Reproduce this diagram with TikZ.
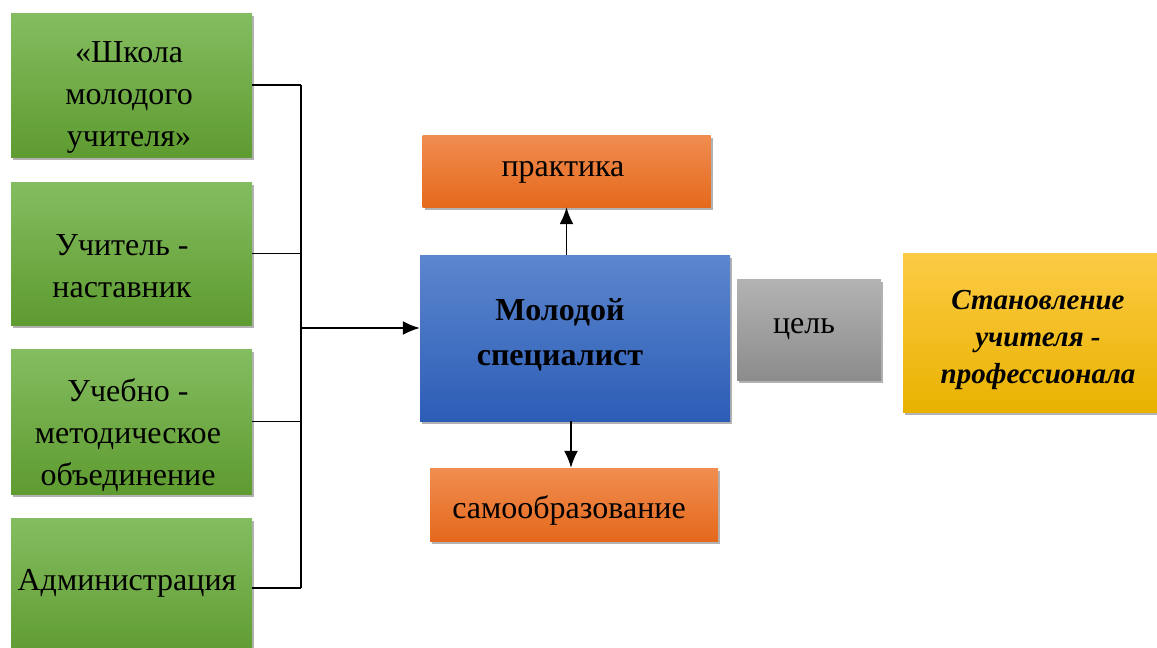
\documentclass[tikz,border=0pt]{standalone}
\usepackage{fontspec}
\setmainfont{Liberation Serif}
\usetikzlibrary{shadows,arrows.meta}
\definecolor{gtop}{HTML}{84BD60}
\definecolor{gbot}{HTML}{5E9B30}
\definecolor{btop}{HTML}{5C86CE}
\definecolor{bbot}{HTML}{2C5DB6}
\definecolor{otop}{HTML}{F08D50}
\definecolor{obot}{HTML}{E5691C}
\definecolor{ytop}{HTML}{FCCB45}
\definecolor{ybot}{HTML}{E9B200}
\definecolor{atop}{HTML}{B3B3B3}
\definecolor{abot}{HTML}{8C8C8C}
\begin{document}
\begin{tikzpicture}[x=1pt,y=-1pt,
  shd/.style={drop shadow={shadow xshift=2pt,shadow yshift=-3pt,opacity=0.3,fill=black}},
  gbox/.style={shd,top color=gtop,bottom color=gbot,draw=none,minimum width=241pt,inner sep=0pt},
  obox/.style={shd,top color=otop,bottom color=obot,draw=none,minimum width=288pt,minimum height=72pt,inner sep=0pt},
  txt/.style={align=center,inner sep=0pt,font=\fontsize{32}{42}\selectfont},
  conn/.style={line width=1.7pt,black},
  arr/.style={conn,-{Latex[length=17pt,width=14pt]}}
]
\useasboundingbox (0,0) rectangle (1157,648);
\clip (0,0) rectangle (1157,648);
% green boxes
\node[gbox,minimum height=144pt] (g1) at (131.5,85) {};
\node[gbox,minimum height=143pt] (g2) at (131.5,253.5) {};
\node[gbox,minimum height=145pt] (g3) at (131.5,421.5) {};
\node[gbox,minimum height=140pt] (g4) at (131.5,588) {};
\node[txt] (t1) at (129,97) {«Школа\\молодого\\учителя»};
\node[txt] (t2) at (122,266) {Учитель -\\наставник};
\node[txt] (t3) at (128,435) {Учебно -\\методическое\\объединение};
\node[txt] (t4) at (127,583) {Администрация};
% blue
\node[shd,top color=btop,bottom color=bbot,minimum width=310pt,minimum height=166pt,inner sep=0pt] (b) at (575,338) {};
\node[txt,font=\fontsize{32}{45}\selectfont\bfseries] (tb) at (560,335) {Молодой\\специалист};
% orange
\node[obox] (p) at (566.5,171) {};
\node[txt] (tp) at (563,172) {практика};
\node[obox,minimum height=73pt] (s) at (574,504.5) {};
\node[txt] (ts) at (569,510) {самообразование};
% gray
\node[shd,top color=atop,bottom color=abot,minimum width=144pt,minimum height=101pt,inner sep=0pt] (c) at (809,329.5) {};
\node[txt] (tc) at (804,329) {цель};
% yellow
\node[shd,top color=ytop,bottom color=ybot,minimum width=268pt,minimum height=159pt,inner sep=0pt] (y) at (1037,332.5) {};
\node[txt,font=\fontsize{29}{37}\selectfont\bfseries\itshape] (ty) at (1038,340) {Становление\\учителя -\\профессионала};
% connectors
\coordinate (jx) at (301,0);
\draw[conn] (g1.east) -- (g1.east -| jx);
\draw[conn] (g2.east) -- (g2.east -| jx);
\draw[conn] (g3.east) -- (g3.east -| jx);
\draw[conn] (g4.east) -- (g4.east -| jx);
\draw[conn] (g1.east -| jx) -- (g4.east -| jx);
\draw[arr] ([yshift=10pt]b.west -| jx) -- ([yshift=10pt]b.west);
\draw[arr] (p.south |- b.north) -- (p.south);
\draw[arr] ([xshift=-3pt]s.north |- b.south) -- ([xshift=-3pt]s.north);
\end{tikzpicture}
\end{document}
